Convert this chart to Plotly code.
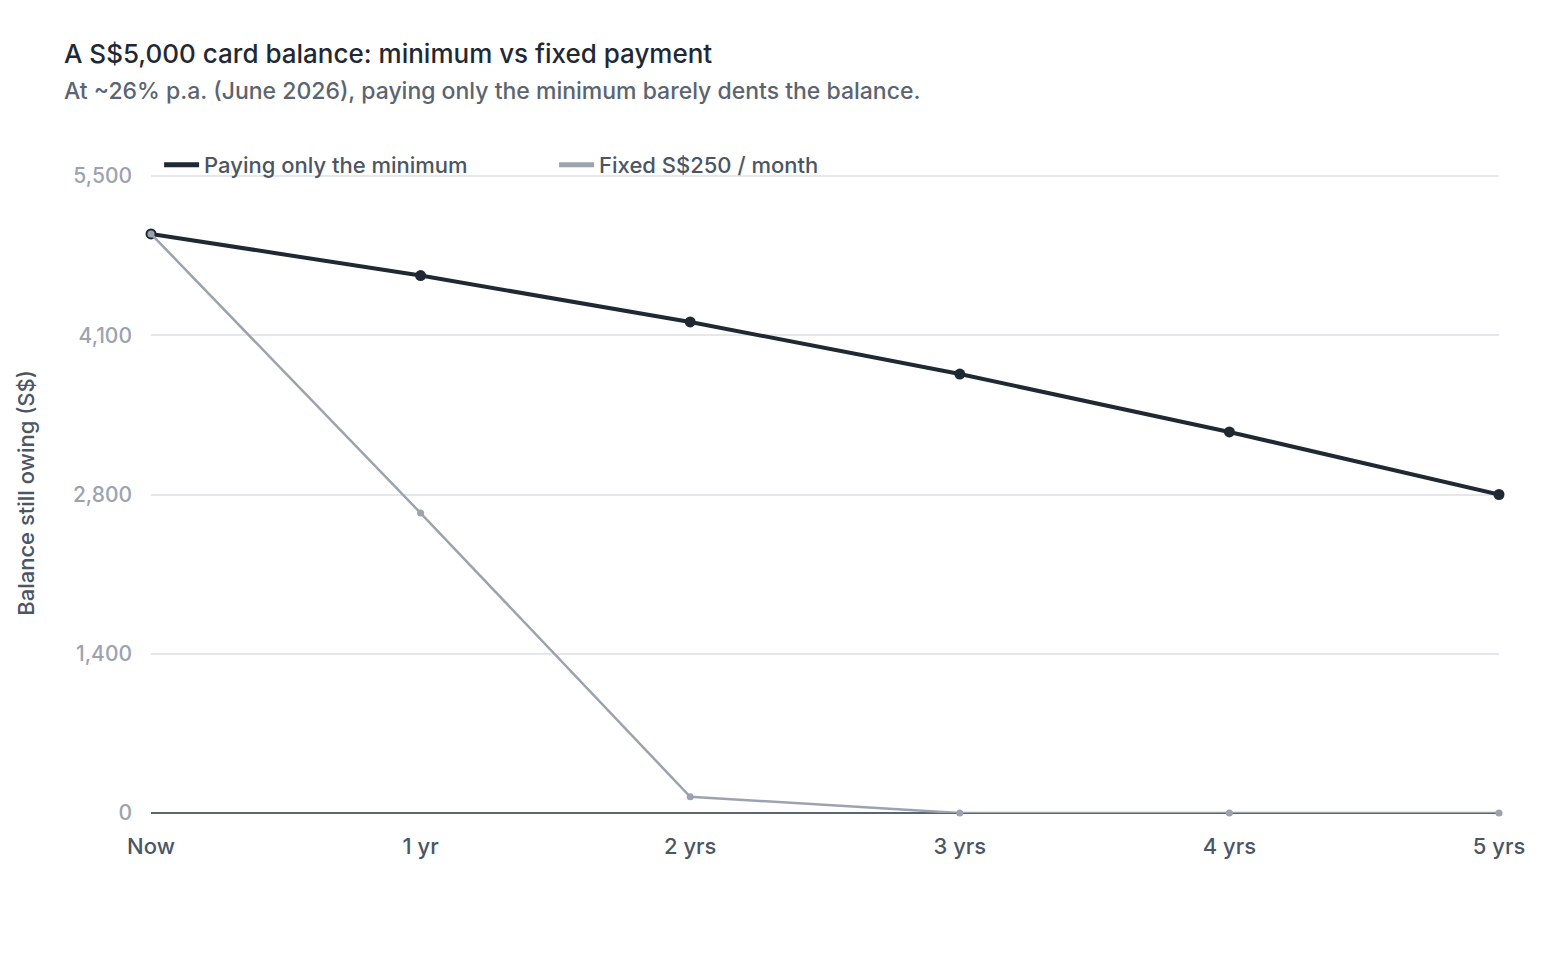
import plotly.graph_objects as go

periods = ["Now", "1 yr", "2 yrs", "3 yrs", "4 yrs", "5 yrs"]
x_pos = [0, 1, 2, 3, 4, 5]
minimum_only = [5000, 4640, 4240, 3790, 3290, 2750]
fixed_250 = [5000, 2590, 140, 0, 0, 0]
y_tickvals = [0, 1375, 2750, 4125, 5500]
y_ticktext = ["0", "1,400", "2,800", "4,100", "5,500"]

FONT = "Inter, Open Sans, sans-serif"
DARK = "#1f2933"
GRAY = "#9ca3af"
TOP = 173
PLOT_H = 953 - TOP - 140
Y_MAX = 5500 * PLOT_H / (PLOT_H - 3)

fig = go.Figure()
fig.add_trace(go.Scatter(
    x=x_pos, y=minimum_only, mode="lines+markers", name="Paying only the minimum",
    line=dict(color=DARK, width=4), marker=dict(color=DARK, size=11),
    showlegend=False, cliponaxis=False,
))
fig.add_trace(go.Scatter(
    x=x_pos, y=fixed_250, mode="lines+markers", name="Fixed S$250 / month",
    line=dict(color=GRAY, width=2.5), marker=dict(color=GRAY, size=7),
    showlegend=False, cliponaxis=False,
))
# legend entries (line-only swatches)
fig.add_trace(go.Scatter(x=[None], y=[None], mode="lines", name="Paying only the minimum",
                         line=dict(color=DARK, width=5)))
fig.add_trace(go.Scatter(x=[None], y=[None], mode="lines", name="Fixed S$250 / month",
                         line=dict(color=GRAY, width=5)))

fig.update_layout(
    width=1560, height=953,
    margin=dict(l=151, r=61, t=TOP, b=140),
    paper_bgcolor="white", plot_bgcolor="white",
    font=dict(family=FONT, color="#4b5563"),
    showlegend=True,
    legend=dict(orientation="h", x=0.006, xanchor="left", y=1 + (TOP - 165) / PLOT_H, yanchor="middle",
                font=dict(size=22, color="#4b5563", weight=500), entrywidth=345, entrywidthmode="pixels",
                itemwidth=35, bgcolor="rgba(0,0,0,0)", traceorder="normal"),
    annotations=[
        dict(text="A S$5,000 card balance: minimum vs fixed payment", xref="paper", yref="paper",
             x=-151/1348 + 62/1348, y=1 + (TOP - 54) / PLOT_H, xanchor="left", yanchor="middle",
             showarrow=False, font=dict(size=26, color=DARK, family=FONT, weight=500)),
        dict(text="At ~26% p.a. (June 2026), paying only the minimum barely dents the balance.",
             xref="paper", yref="paper",
             x=-151/1348 + 62/1348, y=1 + (TOP - 91) / PLOT_H, xanchor="left", yanchor="middle",
             showarrow=False, font=dict(size=23, color="#5b6470", family=FONT, weight=500)),
    ],
)
fig.update_xaxes(range=[0, 5], tickvals=x_pos, ticktext=periods, showgrid=False,
                 zeroline=False, showline=False, ticks="", ticklabelstandoff=18,
                 tickfont=dict(size=22, color="#4b5563", weight=500))
fig.update_yaxes(range=[0, Y_MAX], tickvals=y_tickvals, ticktext=y_ticktext,
                 showgrid=True, gridcolor="#e5e7eb", gridwidth=1.5,
                 zeroline=True, zerolinecolor="#5b6672", zerolinewidth=2,
                 showline=False, ticks="", ticklabelstandoff=18,
                 tickfont=dict(size=21, color=GRAY, weight=500),
                 title=dict(text="Balance still owing (S$)", font=dict(size=22, color="#4b5563", weight=500), standoff=32))

fig.write_html("out.html")
